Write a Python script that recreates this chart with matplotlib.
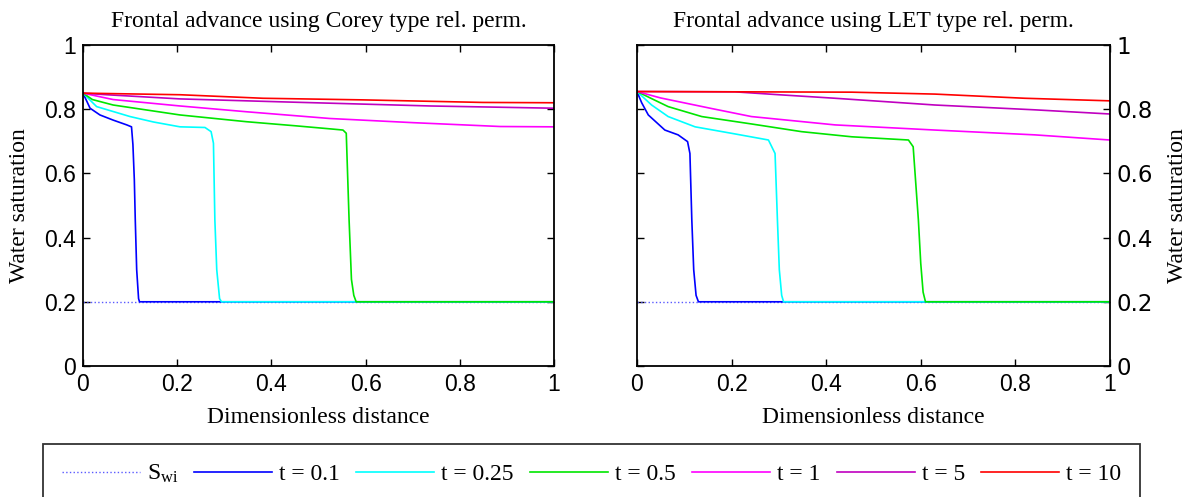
import matplotlib
matplotlib.use("Agg")
import matplotlib.pyplot as plt

# Saturation profiles (x = dimensionless distance)
swi_x = [0, 1]
swi = [0.2, 0.2]

# Corey type rel. perm.
corey_01_x = [0, 0.015, 0.036, 0.064, 0.093, 0.103, 0.106, 0.109, 0.111, 0.114, 0.118, 0.12, 1]
corey_01 = [0.85, 0.803, 0.782, 0.766, 0.751, 0.745, 0.69, 0.58, 0.455, 0.30, 0.21, 0.2, 0.2]
corey_025_x = [0, 0.029, 0.1, 0.15, 0.206, 0.259, 0.272, 0.277, 0.28, 0.284, 0.29, 0.294, 1]
corey_025 = [0.85, 0.808, 0.777, 0.76, 0.745, 0.743, 0.73, 0.694, 0.455, 0.3, 0.21, 0.2, 0.2]
corey_05_x = [0, 0.02, 0.064, 0.206, 0.347, 0.453, 0.53, 0.552, 0.559, 0.565, 0.57, 0.575, 0.58, 1]
corey_05 = [0.85, 0.83, 0.813, 0.782, 0.761, 0.748, 0.738, 0.735, 0.725, 0.455, 0.27, 0.22, 0.2, 0.2]
corey_1_x = [0, 0.064, 0.206, 0.347, 0.524, 0.701, 0.886, 1]
corey_1 = [0.85, 0.83, 0.81, 0.792, 0.771, 0.758, 0.746, 0.745]
corey_5_x = [0, 0.05, 0.206, 0.418, 0.737, 1]
corey_5 = [0.85, 0.845, 0.832, 0.823, 0.81, 0.803]
corey_10_x = [0, 0.206, 0.382, 0.594, 0.849, 1]
corey_10 = [0.85, 0.845, 0.834, 0.829, 0.821, 0.82]

# LET type rel. perm.
let_01_x = [0, 0.01, 0.024, 0.059, 0.087, 0.107, 0.112, 0.116, 0.12, 0.125, 0.13, 1]
let_01 = [0.855, 0.82, 0.782, 0.735, 0.72, 0.699, 0.662, 0.455, 0.3, 0.22, 0.2, 0.2]
let_025_x = [0, 0.031, 0.066, 0.123, 0.207, 0.278, 0.292, 0.297, 0.301, 0.306, 0.31, 1]
let_025 = [0.855, 0.813, 0.777, 0.745, 0.723, 0.704, 0.662, 0.455, 0.3, 0.22, 0.2, 0.2]
let_05_x = [0, 0.066, 0.137, 0.242, 0.348, 0.454, 0.574, 0.584, 0.595, 0.6, 0.605, 0.61, 1]
let_05 = [0.855, 0.808, 0.777, 0.754, 0.73, 0.714, 0.704, 0.683, 0.455, 0.32, 0.23, 0.2, 0.2]
let_1_x = [0, 0.05, 0.158, 0.242, 0.419, 0.63, 0.841, 1]
let_1 = [0.855, 0.835, 0.802, 0.777, 0.751, 0.735, 0.72, 0.704]
let_5_x = [0, 0.207, 0.3, 0.419, 0.63, 0.841, 1]
let_5 = [0.855, 0.854, 0.845, 0.834, 0.813, 0.798, 0.785]
let_10_x = [0, 0.454, 0.63, 0.82, 1]
let_10 = [0.855, 0.853, 0.847, 0.834, 0.826]

labels = ["$\\mathregular{S_{wi}}$", "t = 0.1", "t = 0.25", "t = 0.5", "t = 1", "t = 5", "t = 10"]
colors = ["#5a5aff", "#0000ff", "#00ffff", "#00e600", "#ff00ff", "#c000c0", "#ff0000"]
ticks = [0, 0.2, 0.4, 0.6, 0.8, 1]
tick_text = ["0", "0.2", "0.4", "0.6", "0.8", "1"]

plt.rcParams["mathtext.fontset"] = "custom"
plt.rcParams["mathtext.rm"] = "Liberation Serif"
serif = {"family": "Liberation Serif", "size": 17}

fig = plt.figure(figsize=(11.89, 4.97), dpi=100)
ax1 = fig.add_axes([0.0698, 0.2636, 0.3961, 0.6459])
ax2 = fig.add_axes([0.5357, 0.2636, 0.3978, 0.6459])

panels = [
    (ax1, "Frontal advance using Corey type rel. perm.",
     [(corey_01_x, corey_01), (corey_025_x, corey_025), (corey_05_x, corey_05),
      (corey_1_x, corey_1), (corey_5_x, corey_5), (corey_10_x, corey_10)]),
    (ax2, "Frontal advance using LET type rel. perm.",
     [(let_01_x, let_01), (let_025_x, let_025), (let_05_x, let_05),
      (let_1_x, let_1), (let_5_x, let_5), (let_10_x, let_10)]),
]

handles = []
for ax, title, curves in panels:
    h = ax.plot(swi_x, swi, ":", color=colors[0], lw=1.0)
    lines = [h[0]]
    for (x, y), c in zip(curves, colors[1:]):
        lines += ax.plot(x, y, color=c, lw=1.2)
    handles = lines

    ax.set_xlim(0, 1)
    ax.set_ylim(0, 1)
    ax.set_xticks(ticks)
    ax.set_yticks(ticks)
    ax.set_xticklabels(tick_text)
    ax.set_yticklabels(tick_text)
    ax.tick_params(direction="in", top=True, right=True, length=5, width=1,
                   labelsize=16.5, pad=5)
    for lab in ax.get_xticklabels() + ax.get_yticklabels():
        lab.set_family("Liberation Sans")
    for s in ax.spines.values():
        s.set_linewidth(1.3)
    ax.set_title(title, fontdict=serif, pad=13)
    ax.set_xlabel("Dimensionless distance", fontdict=serif, labelpad=8)
    ax.set_ylabel("Water saturation", fontdict=serif, labelpad=10)

# right panel has its y labels on the right side
ax2.yaxis.set_label_position("right")
ax2.tick_params(labelleft=False, labelright=True)

leg = fig.legend(handles, labels, loc="upper left", ncol=7, mode="expand",
                 bbox_to_anchor=(0.036, 0.0, 0.923, 0.1066), borderaxespad=0,
                 prop={"family": "Liberation Serif", "size": 17},
                 handlelength=3.3, handletextpad=0.3, borderpad=0.8,
                 fancybox=False, frameon=True)
leg.get_frame().set_edgecolor("black")
leg.get_frame().set_linewidth(1.3)

fig.savefig("out.png", dpi=100)
